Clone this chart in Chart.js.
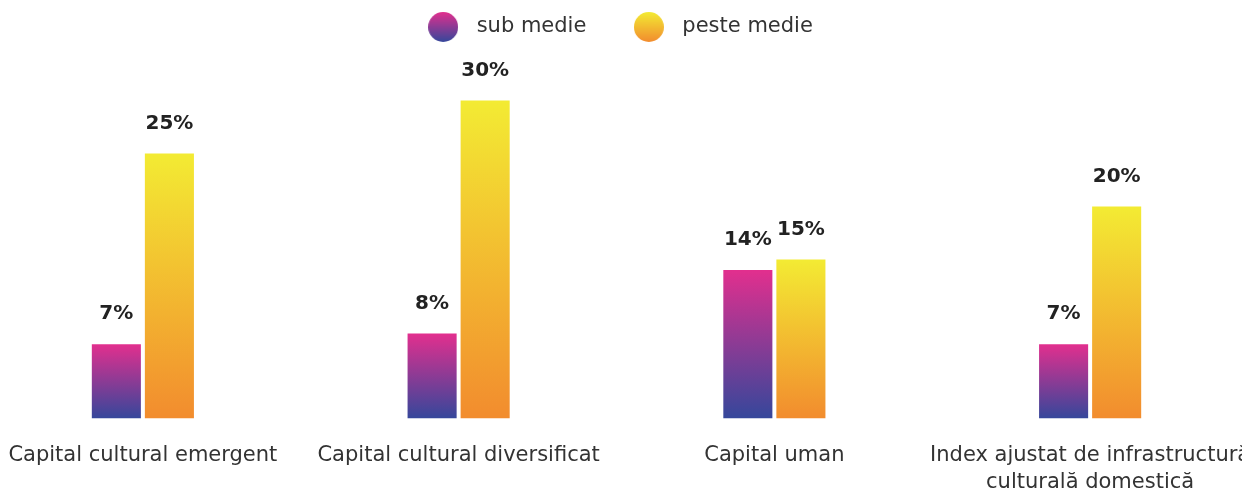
<!DOCTYPE html>
<html>
<head>
<meta charset="utf-8">
<script src="https://cdn.jsdelivr.net/npm/chart.js@4/dist/chart.umd.min.js"></script>
<style>
  html, body { margin: 0; padding: 0; background: #fff; overflow: hidden; }
  #wrap { position: absolute; left: -15px; top: 0; width: 1263px; height: 489px; }
</style>
</head>
<body>
<div id="wrap"><canvas id="chart"></canvas></div>
<script>
// categorii si valori (%)
const categories = [
  "Capital cultural emergent",
  "Capital cultural diversificat",
  "Capital uman",
  ["Index ajustat de infrastructură", "culturală domestică"],
];
const subMedie = [7, 8, 14, 7];
const pesteMedie = [25, 30, 15, 20];
const seriesNames = ["sub medie", "peste medie"];

// culori gradient: sus -> jos
const gradSub = ["#e22f8e", "#35479b"];
const gradPeste = ["#f3eb33", "#f28c2e"];

const FONT = "'DejaVu Sans', sans-serif";

// gradient vertical pe fiecare bara, de la varf la baza
function barGradient(colors) {
  return function (context) {
    const chart = context.chart;
    const y = chart.scales.y;
    if (!y || context.raw === undefined) return colors[0];
    const top = y.getPixelForValue(context.raw);
    const base = y.getPixelForValue(0);
    const g = chart.ctx.createLinearGradient(0, top, 0, base);
    g.addColorStop(0, colors[0]);
    g.addColorStop(1, colors[1]);
    return g;
  };
}

// cercul din legenda
function legendDot(colors) {
  const c = document.createElement("canvas");
  c.width = 30;
  c.height = 30;
  const x = c.getContext("2d");
  const g = x.createLinearGradient(0, 0, 0, 30);
  g.addColorStop(0, colors[0]);
  g.addColorStop(1, colors[1]);
  x.fillStyle = g;
  x.beginPath();
  x.arc(15, 15, 15, 0, Math.PI * 2);
  x.fill();
  return c;
}

// valorile deasupra barelor
const valueLabels = {
  id: "valueLabels",
  afterDatasetsDraw(chart) {
    const ctx = chart.ctx;
    ctx.save();
    ctx.font = "bold 20px " + FONT;
    ctx.fillStyle = "#222222";
    ctx.textAlign = "center";
    ctx.textBaseline = "middle";
    chart.data.datasets.forEach((ds, i) => {
      chart.getDatasetMeta(i).data.forEach((bar, j) => {
        ctx.fillText(ds.data[j] + "%", bar.x, bar.y - 30);
      });
    });
    ctx.restore();
  },
};

const dots = [legendDot(gradSub), legendDot(gradPeste)];

new Chart(document.getElementById("chart"), {
  type: "bar",
  data: {
    labels: categories,
    datasets: [
      {
        label: seriesNames[0],
        data: subMedie,
        backgroundColor: barGradient(gradSub),
      },
      {
        label: seriesNames[1],
        data: pesteMedie,
        backgroundColor: barGradient(gradPeste),
      },
    ],
  },
  options: {
    responsive: true,
    maintainAspectRatio: false,
    animation: false,
    categoryPercentage: 0.336,
    barPercentage: 0.925,
    layout: {
      padding: { top: -23, bottom: -30, left: 0, right: 0 },
    },
    plugins: {
      legend: {
        display: true,
        position: "top",
        labels: {
          usePointStyle: true,
          pointStyleWidth: 46,
          padding: 39.5,
          color: "#333333",
          font: { family: FONT, size: 21 },
          generateLabels: (chart) =>
            chart.data.datasets.map((ds, i) => ({
              text: ds.label,
              pointStyle: dots[i],
              fillStyle: "transparent",
              strokeStyle: "transparent",
              lineWidth: 0,
              fontColor: "#333333",
              datasetIndex: i,
            })),
        },
      },
      tooltip: { enabled: false },
    },
    scales: {
      x: {
        grid: { display: false, drawTicks: false },
        border: { display: false },
        ticks: {
          padding: 23,
          color: "#333333",
          maxRotation: 0,
          autoSkip: false,
          font: { family: FONT, size: 21, lineHeight: 1.3 },
        },
        // categoriile ocupa toata latimea; ultima eticheta poate iesi din cadru
        afterFit(scale) {
          scale.paddingLeft = 0;
          scale.paddingRight = 0;
        },
      },
      y: {
        display: false,
        min: 0,
        max: 35,
      },
    },
  },
  plugins: [valueLabels],
});
</script>
</body>
</html>
